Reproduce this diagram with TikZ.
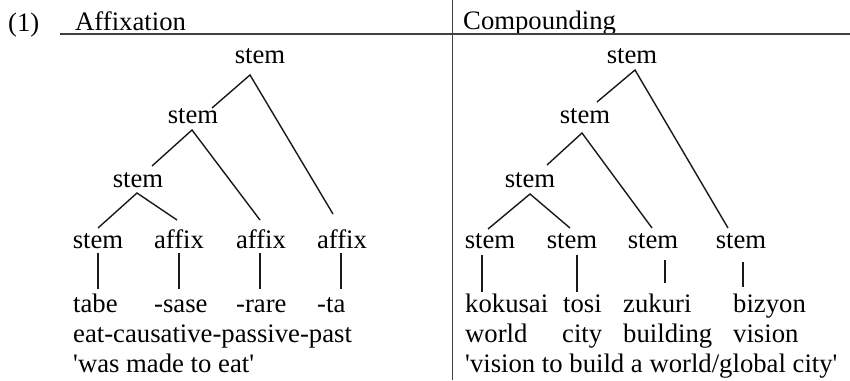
\documentclass[tikz,border=0pt]{standalone}
\usepackage{fontspec}
\setmainfont{Liberation Serif}
\usetikzlibrary{calc}
\tikzset{
  lab/.style={inner sep=0pt, anchor=base, font=\fontsize{26.7}{31}\selectfont},
  word/.style={inner sep=0pt, anchor=base west, font=\fontsize{26.7}{31}\selectfont},
  edge/.style={line width=1.4pt, black!90},
  rule/.style={line width=1.4pt, black!75}
}
\begin{document}
\begin{tikzpicture}[x=1pt,y=-1pt]
\useasboundingbox (0,0) rectangle (850,380);

% header row and dividing rules
\node[word] (num) at (8,31) {(1)};
\node[word] (hA) at (75,30) {Affixation};
\node[word] (hC) at (463,29) {Compounding};
\coordinate (ruleL) at (60,34);
\coordinate (ruleR) at (850,34);
\coordinate (colT) at (452.5,0);
\coordinate (colB) at (452.5,380);
\draw[rule] (ruleL) -- (ruleR);
\draw[rule] (colT) -- (colB);

% ---------- affixation tree ----------
\node[lab] (L0) at (260,63) {stem};
\node[lab] (L1) at (193,123) {stem};
\node[lab] (L2) at (138,187) {stem};
\node[lab] (L3a) at (98,248) {stem};
\node[lab] (L3b) at (179,248) {affix};
\node[lab] (L3c) at (261,248) {affix};
\node[lab] (L3d) at (342,248) {affix};

\draw[edge] ($(L1.base)+(19,-15)$) -- ($(L0.base)+(-10,12)$) -- ($(L3d.base)+(-9,-34)$);
\draw[edge] ($(L2.base)+(14,-21)$) -- ($(L1.base)+(-1,7)$) -- ($(L3c.base)+(-1,-28)$);
\draw[edge] ($(L3a.base)+(0,-20)$) -- ($(L2.base)+(-1,6)$) -- ($(L3b.base)+(-2,-28)$);

\node[word] (LW1) at (73,312) {tabe};
\node[word] (LW2) at (154,312) {-sase};
\node[word] (LW3) at (236,312) {-rare};
\node[word] (LW4) at (317,312) {-ta};
\node[word] (Lgl) at (73,342) {eat-causative-passive-past};
\node[word] (Ltr) at (73,372) {\textquotesingle was made to eat\textquotesingle};

\draw[edge] ($(L3a.base)+(0,5)$) -- ($(L3a.base |- LW1.base)+(0,-23)$);
\draw[edge] ($(L3b.base)+(0,5)$) -- ($(L3b.base |- LW2.base)+(0,-23)$);
\draw[edge] ($(L3c.base)+(-1,5)$) -- ($(L3c.base |- LW3.base)+(-1,-23)$);
\draw[edge] ($(L3d.base)+(-1,5)$) -- ($(L3d.base |- LW4.base)+(-1,-23)$);

% ---------- compounding tree ----------
\node[lab] (R0) at (632,63) {stem};
\node[lab] (R1) at (585,123) {stem};
\node[lab] (R2) at (530,187) {stem};
\node[lab] (R3a) at (490,248) {stem};
\node[lab] (R3b) at (572,248) {stem};
\node[lab] (R3c) at (653,248) {stem};
\node[lab] (R3d) at (741,248) {stem};

\draw[edge] ($(R1.base)+(12,-21)$) -- ($(R0.base)+(3,7)$) -- ($(R3d.base)+(-13,-20)$);
\draw[edge] ($(R2.base)+(17,-22)$) -- ($(R1.base)+(-3,10)$) -- ($(R3c.base)+(-1,-20)$);
\draw[edge] ($(R3a.base)+(-2,-19)$) -- ($(R2.base)+(0,7)$) -- ($(R3b.base)+(-2,-20)$);

\node[word] (RW1) at (465,312) {kokusai};
\node[word] (RW2) at (563,312) {tosi};
\node[word] (RW3) at (623,312) {zukuri};
\node[word] (RW4) at (733,312) {bizyon};
\node[word] (RG1) at (465,342) {world};
\node[word] (RG2) at (562,342) {city};
\node[word] (RG3) at (623,342) {building};
\node[word] (RG4) at (733,342) {vision};
\node[word] (Rtr) at (465,372) {\textquotesingle vision to build a world/global city\textquotesingle};

\draw[edge] ($(R3a.base)+(-8,7)$) -- ($(R3a.base |- RW1.base)+(-8,-20)$);
\draw[edge] ($(R3b.base)+(5,7)$) -- ($(R3b.base |- RW2.base)+(5,-20)$);
\draw[edge] ($(R3c.base)+(12,12)$) -- ($(R3c.base |- RW3.base)+(12,-29)$);
\draw[edge] ($(R3d.base)+(2,14)$) -- ($(R3d.base |- RW4.base)+(2,-25)$);
\end{tikzpicture}
\end{document}
